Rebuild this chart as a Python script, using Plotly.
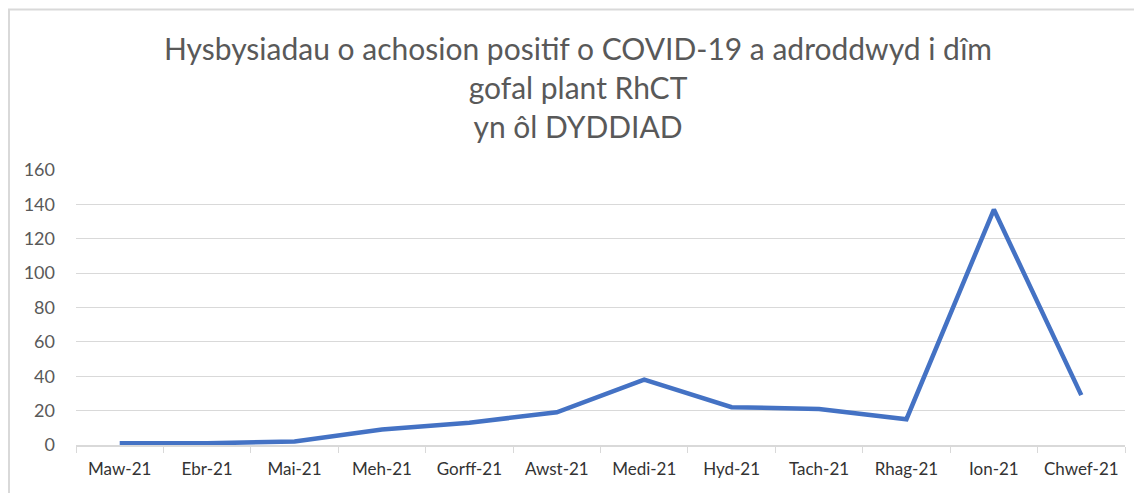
import plotly.graph_objects as go

categories = ["Maw-21", "Ebr-21", "Mai-21", "Meh-21", "Gorff-21", "Awst-21",
              "Medi-21", "Hyd-21", "Tach-21", "Rhag-21", "Ion-21", "Chwef-21"]
values = [1, 1, 2, 9, 13, 19, 38, 22, 21, 15, 137, 29]
y_ticks = [0, 20, 40, 60, 80, 100, 120, 140, 160]
title_text = ("Hysbysiadau o achosion positif o COVID-19 a adroddwyd i dîm<br>"
              "gofal plant RhCT<br>yn ôl DYDDIAD")

# page body has an 8px default margin, so the figure is placed at (8, 8)
OFF = 8
W, H = 1142 - OFF, 493 - OFF
ml, mt = 76 - OFF, 170 - OFF
mr = W - (1125 - OFF)
mb = H - (445 - OFF)
pw = W - ml - mr
ph = H - mt - mb

fig = go.Figure()
fig.add_trace(go.Scatter(
    x=categories, y=values, mode="lines",
    line=dict(color="#4472C4", width=4.5),
    hoverinfo="x+y",
))

# outer chart border (top and left visible)
fig.add_shape(type="rect", xref="paper", yref="paper",
              x0=(1 - ml) / pw, x1=(W + 20 - ml) / pw,
              y0=-(mb + 20) / ph, y1=1 + (mt - 1.5) / ph,
              line=dict(color="#D9D9D9", width=2), fillcolor="rgba(0,0,0,0)",
              layer="below")

fig.add_annotation(text=title_text, xref="paper", yref="paper",
                   x=(578 - OFF - ml) / pw, y=1 + (mt - (28 - OFF)) / ph,
                   xanchor="center", yanchor="top", showarrow=False,
                   align="center",
                   font=dict(size=30, color="#595959",
                             family="Lato, 'Open Sans', sans-serif"))

fig.update_layout(
    width=W, height=H,
    margin=dict(l=ml, r=mr, t=mt, b=mb, autoexpand=False),
    paper_bgcolor="white", plot_bgcolor="white",
    showlegend=False,
    font=dict(family="Lato, 'Open Sans', sans-serif", color="#595959"),
    xaxis=dict(type="category", showgrid=False, showline=True, linecolor="#D9D9D9",
               linewidth=1.5, ticks="outside", ticklen=6, tickcolor="#D9D9D9",
               tickson="boundaries", automargin=False, ticklabelstandoff=8,
               tickfont=dict(size=17, color="#333333"),
               range=[-0.5, len(categories) - 0.5]),
    yaxis=dict(range=[0, 160], tickvals=y_ticks, showgrid=True, gridcolor="#D9D9D9",
               gridwidth=1.2, zeroline=False, showline=False, automargin=False,
               tickfont=dict(size=18, color="#595959"), ticklabelstandoff=20),
)

fig.write_html("out.html")
